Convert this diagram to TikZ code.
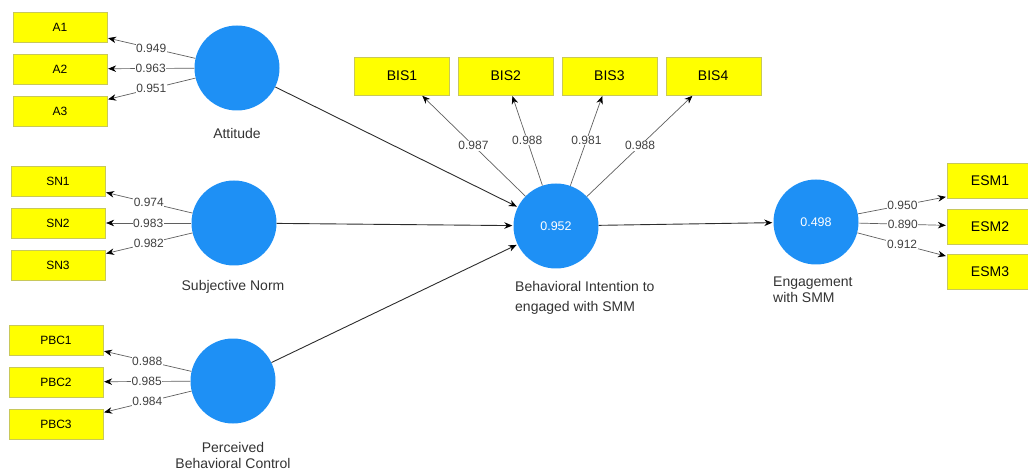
\documentclass[tikz,border=0pt]{standalone}
\usepackage{fontspec}
\setmainfont{Liberation Sans}
\usetikzlibrary{arrows.meta,positioning}
\definecolor{lvblue}{RGB}{30,144,245}
\definecolor{mvyellow}{RGB}{255,255,0}
\definecolor{mvedge}{RGB}{200,200,90}
\definecolor{loadline}{RGB}{95,95,95}
\definecolor{pathline}{RGB}{45,45,45}

\begin{document}
\begin{tikzpicture}[x=1pt,y=-1pt,>={Stealth[length=8pt,width=6.5pt,color=black]},
                    shorten >=1pt,node distance=42pt]
  \tikzstyle{latent}=[circle,fill=lvblue,minimum size=85pt,inner sep=0pt,
                      text=white,font=\fontsize{12.5}{14}\selectfont]
  \tikzstyle{indicator}=[rectangle,fill=mvyellow,draw=mvedge,very thin,minimum width=94pt,
                         minimum height=30pt,inner sep=0pt,font=\fontsize{12}{14}\selectfont]
  \tikzstyle{bigindicator}=[indicator,minimum width=95pt,minimum height=38pt,
                            font=\fontsize{14}{16}\selectfont]
  \tikzstyle{loading}=[draw=loadline,line width=0.7pt]
  \tikzstyle{structural}=[draw=pathline,line width=0.9pt]
  \tikzstyle{coef}=[fill=white,inner sep=0.6pt,text=black!75,font=\fontsize{12}{14}\selectfont]
  \tikzstyle{caption}=[inner sep=0pt,text=black!80,font=\fontsize{14}{16}\selectfont]

  \useasboundingbox (0,0) rectangle (1028,470);

  \node[latent] (ATT) at (237,68)  {};
  \node[latent] (SN)  at (234,223) {};
  \node[latent] (PBC) at (233,381) {};
  \node[latent] (BI)  at (556,226) {0.952};
  \node[latent] (ENG) at (816,222) {0.498};

  \node[indicator] (A1) at (60,27)    {A1};
  \node[indicator] (A2) [below of=A1] {A2};
  \node[indicator] (A3) [below of=A2] {A3};
  \node[indicator] (SN1) at (58,181)    {SN1};
  \node[indicator] (SN2) [below of=SN1] {SN2};
  \node[indicator] (SN3) [below of=SN2] {SN3};
  \node[indicator] (PBC1) at (56,340)     {PBC1};
  \node[indicator] (PBC2) [below of=PBC1] {PBC2};
  \node[indicator] (PBC3) [below of=PBC2] {PBC3};

  \node[bigindicator] (BIS1) at (402,76) {BIS1};
  \node[bigindicator] (BIS2) [right of=BIS1,node distance=103.7pt] {BIS2};
  \node[bigindicator] (BIS3) [right of=BIS2,node distance=103.7pt] {BIS3};
  \node[bigindicator] (BIS4) [right of=BIS3,node distance=103.7pt] {BIS4};

  \node[bigindicator,minimum width=86pt,minimum height=35pt] (ESM1) at (990,181) {ESM1};
  \node[bigindicator,minimum width=86pt,minimum height=35pt] (ESM2) [below of=ESM1,node distance=45.5pt] {ESM2};
  \node[bigindicator,minimum width=86pt,minimum height=35pt] (ESM3) [below of=ESM2,node distance=45.5pt] {ESM3};

  \node[caption] (attname) at (237,133) {Attitude};
  \node[caption] (snname)  at (233,287) {Subjective Norm};
  \node[caption,align=center] (pbcname) at (233,455) {Perceived\\Behavioral Control};
  \node[caption,align=left,anchor=west,font=\fontsize{14}{20}\selectfont] (biname) at (515,298)
       {Behavioral Intention to\\engaged with SMM};
  \node[caption,align=left,anchor=west] (engname) at (773,290) {Engagement\\with SMM};

  \path (ATT) edge[->,loading] node[coef] {0.949} (A1)
              edge[->,loading] node[coef] {0.963} (A2)
              edge[->,loading] node[coef] {0.951} (A3)
        (SN)  edge[->,loading] node[coef] {0.974} (SN1)
              edge[->,loading] node[coef] {0.983} (SN2)
              edge[->,loading] node[coef] {0.982} (SN3)
        (PBC) edge[->,loading] node[coef] {0.988} (PBC1)
              edge[->,loading] node[coef] {0.985} (PBC2)
              edge[->,loading] node[coef] {0.984} (PBC3)
        (BI)  edge[->,loading] node[coef] {0.987} (BIS1)
              edge[->,loading] node[coef] {0.988} (BIS2)
              edge[->,loading] node[coef] {0.981} (BIS3)
              edge[->,loading] node[coef] {0.988} (BIS4)
        (ENG) edge[->,loading] node[coef] {0.950} (ESM1.200)
              edge[->,loading] node[coef] {0.890} (ESM2)
              edge[->,loading] node[coef] {0.912} (ESM3.160);

  \path (ATT) edge[->,structural] (BI)
        (SN)  edge[->,structural] (BI)
        (PBC) edge[->,structural] (BI)
        (BI)  edge[->,structural] (ENG);
\end{tikzpicture}
\end{document}
